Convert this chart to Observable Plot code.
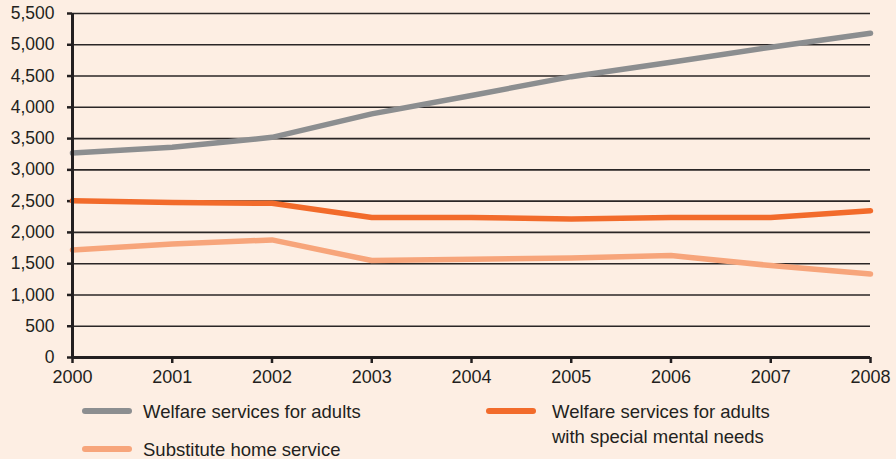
<!DOCTYPE html>
<html>
<head>
<meta charset="utf-8">
<script src="https://cdn.jsdelivr.net/npm/d3@7"></script>
<script src="https://cdn.jsdelivr.net/npm/@observablehq/plot@0.6"></script>
<style>
  html, body { margin: 0; padding: 0; background: #fdeee3; }
  #wrap { position: relative; width: 896px; height: 459px; background: #fdeee3; overflow: hidden;
          font-family: "Liberation Sans", Arial, sans-serif; color: #231f20; }
  #chart svg { display: block; }
  .leg { position: absolute; font-size: 18.5px; line-height: 25px; white-space: nowrap; }
  .sw { position: absolute; height: 6px; border-radius: 3px; }
</style>
</head>
<body>
<div id="wrap">
  <div id="chart"></div>
  <div id="legend"></div>
</div>
<script>
const years = [2000, 2001, 2002, 2003, 2004, 2005, 2006, 2007, 2008];
const seriesNames = [
  "Welfare services for adults",
  "Welfare services for adults with special mental needs",
  "Substitute home service"
];
const welfareAdults = [3270, 3360, 3520, 3895, 4190, 4490, 4720, 4960, 5185];
const welfareMental = [2505, 2480, 2465, 2238, 2238, 2215, 2238, 2238, 2345];
const substituteHome = [1720, 1815, 1880, 1550, 1570, 1590, 1630, 1470, 1335];
const colors = ["#8c8e90", "#f26b2b", "#f7a57b"];
const yTicks = [0, 500, 1000, 1500, 2000, 2500, 3000, 3500, 4000, 4500, 5000, 5500];

const allValues = [welfareAdults, welfareMental, substituteHome];
const data = [];
allValues.forEach((vals, i) => {
  vals.forEach((v, j) => data.push({ year: years[j], value: v, series: seriesNames[i] }));
});

const chart = Plot.plot({
  width: 896,
  height: 394,
  marginLeft: 72,
  marginRight: 26,
  marginTop: 13,
  marginBottom: 37,
  style: { background: "#fdeee3", fontSize: "17.5px", fontFamily: "'Liberation Sans', Arial, sans-serif", color: "#231f20" },
  x: { domain: [2000, 2008], label: null },
  y: { domain: [0, 5500], label: null },
  color: { domain: seriesNames, range: colors },
  marks: [
    Plot.gridY(yTicks, { stroke: "#2a2626", strokeOpacity: 1, strokeWidth: 1.6 }),
    Plot.axisX({ ticks: years, tickFormat: d3.format("d"), tickSize: 6, tickPadding: 7, stroke: "#231f20", strokeWidth: 2.5, label: null, fontSize: 18 }),
    Plot.axisY({ ticks: yTicks, tickFormat: d3.format(","), tickSize: 5, tickPadding: 13, stroke: "#231f20", strokeWidth: 2.5, label: null }),
    Plot.line(data, { x: "year", y: "value", z: "series", stroke: "series", strokeWidth: 5.5, strokeLinecap: "round", strokeLinejoin: "round" }),
    Plot.ruleX([2000], { stroke: "#231f20", strokeWidth: 3 }),
    Plot.ruleY([0], { stroke: "#231f20", strokeWidth: 3 })
  ]
});
document.getElementById("chart").appendChild(chart);

const legend = document.getElementById("legend");
const items = [
  { lines: ["Welfare services for adults"], color: colors[0], sx: 82, tx: 143, y: 411 },
  { lines: ["Welfare services for adults", "with special mental needs"], color: colors[1], sx: 486, tx: 552, y: 411 },
  { lines: ["Substitute home service"], color: colors[2], sx: 82, tx: 143, y: 449 }
];
items.forEach(it => {
  const sw = document.createElement("div");
  sw.className = "sw";
  sw.style.left = it.sx + "px";
  sw.style.width = "50px";
  sw.style.top = (it.y - 3) + "px";
  sw.style.background = it.color;
  legend.appendChild(sw);
  const t = document.createElement("div");
  t.className = "leg";
  t.style.left = it.tx + "px";
  t.style.top = (it.y - 12.5) + "px";
  t.innerHTML = it.lines.join("<br>");
  legend.appendChild(t);
});
</script>
</body>
</html>
